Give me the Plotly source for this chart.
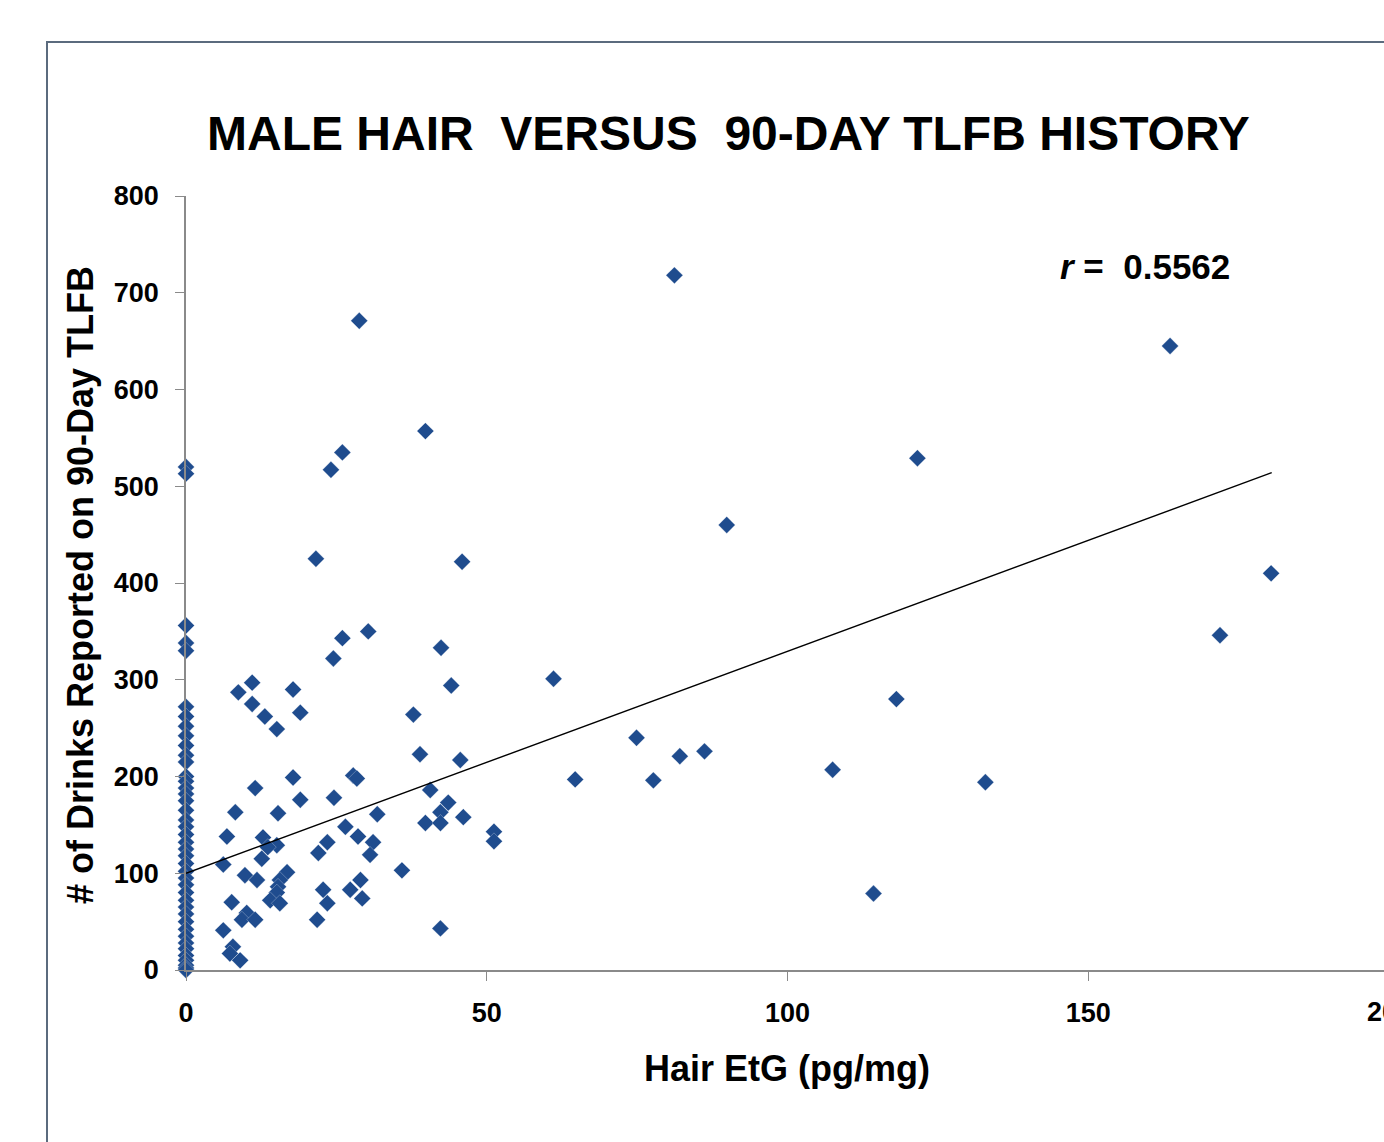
import plotly.graph_objects as go

# ---- data ----
zero_y = [520, 513, 356, 338, 330, 272, 262, 252, 242, 232, 222, 215, 200, 195, 188, 182,
          175, 165, 155, 148, 140, 132, 125, 118, 110, 102, 95, 88, 80, 72, 65, 58, 50,
          42, 35, 28, 22, 15, 10, 5, 2, 0]

etg_x = [81.2, 28.8, 163.6, 39.8, 26.0, 24.1, 121.6, 89.9, 21.6, 45.9, 180.4, 30.3, 26.0,
         171.9, 42.4, 24.5, 61.1, 44.1, 118.1, 37.8, 74.9, 38.9, 86.2, 82.1, 45.6, 107.5,
         64.7, 77.7, 132.9, 40.6, 114.3, 42.3, 51.2, 51.2, 46.1, 11.0, 8.7, 17.8, 11.0,
         13.1, 19.0, 15.1, 17.8, 27.8, 28.4, 11.5, 19.0, 8.2, 15.3, 24.6, 43.6, 42.3, 31.8,
         39.8, 42.3, 6.8, 12.8, 15.1, 13.6, 26.5, 28.6, 23.5, 22.0, 31.1, 30.6, 12.6, 6.2,
         9.8, 11.8, 16.8, 15.6, 15.3, 15.1, 14.0, 15.6, 22.8, 23.5, 27.3, 29.0, 29.3, 35.9,
         7.6, 10.1, 9.3, 11.5, 21.8, 6.2, 7.8, 7.3, 9.0]
drinks_y = [718, 671, 645, 557, 535, 517, 529, 460, 425, 422, 410, 350, 343,
            346, 333, 322, 301, 294, 280, 264, 240, 223, 226, 221, 217, 207,
            197, 196, 194, 186, 79, 43, 143, 133, 158, 297, 287, 290, 275,
            262, 266, 249, 199, 201, 198, 188, 176, 163, 162, 178, 173, 163, 161,
            152, 152, 138, 137, 129, 127, 148, 138, 132, 121, 132, 119, 115, 109,
            98, 93, 101, 93, 86, 80, 72, 69, 83, 69, 83, 93, 74, 103,
            70, 59, 52, 52, 52, 41, 24, 17, 10]

trend_x = [0, 180.5]
trend_y = [100, 514]

x_ticks = [0, 50, 100, 150]
y_ticks = [0, 100, 200, 300, 400, 500, 600, 700, 800]

all_x = [0.0] * len(zero_y) + etg_x
all_y = zero_y + drinks_y

FONT = "Liberation Sans, Arial, sans-serif"
MARK = "#1F4C8E"
AXIS = "#8A8A8A"

fig = go.Figure()
fig.add_trace(go.Scatter(
    x=all_x, y=all_y, mode="markers", cliponaxis=False,
    marker=dict(symbol="diamond", size=13, color=MARK,
                line=dict(width=0.6, color="rgba(255,255,255,0.45)")),
    showlegend=False, hoverinfo="x+y"))
fig.add_trace(go.Scatter(
    x=trend_x, y=trend_y, mode="lines", cliponaxis=False,
    line=dict(color="black", width=1.4), showlegend=False, hoverinfo="skip"))

L, T, W, H = 186, 196, 1384, 1142
PW = W - L              # plot width in px
PH = 970 - T            # plot height in px
def px(xp):
    return (xp - L) / PW
def py(yp):
    return (970 - yp) / PH

fig.update_layout(
    width=W, height=H,
    margin=dict(l=L, r=0, t=T, b=H - 970, pad=0),
    paper_bgcolor="white", plot_bgcolor="white",
    font=dict(family=FONT, color="black"),
    xaxis=dict(range=[0, 200 * PW / 1203.0], showgrid=False, zeroline=False,
               showline=True, linecolor=AXIS, linewidth=1.5,
               ticks="outside", ticklen=9, tickcolor=AXIS, tickwidth=1.2,
               tickvals=x_ticks, ticktext=[str(v) for v in x_ticks],
               ticklabelstandoff=9,
               tickfont=dict(family=FONT, size=27, weight="bold", color="black")),
    yaxis=dict(range=[0, 800], showgrid=False, zeroline=False,
               showline=True, linecolor=AXIS, linewidth=1.5,
               ticks="outside", ticklen=9, tickcolor=AXIS, tickwidth=1.2,
               tickvals=y_ticks, ticktext=[str(v) for v in y_ticks],
               ticklabelstandoff=11,
               tickfont=dict(family=FONT, size=27, weight="bold", color="black")),
    shapes=[dict(type="rect", xref="paper", yref="paper",
                 x0=px(47), x1=px(1500), y0=py(1300), y1=py(42),
                 line=dict(color="#5B6B7E", width=2), fillcolor="rgba(0,0,0,0)",
                 layer="above")],
    annotations=[
        dict(text="MALE HAIR  VERSUS  90-DAY TLFB HISTORY", xref="paper", yref="paper",
             x=px(728), y=py(133), xanchor="center", yanchor="middle", showarrow=False,
             font=dict(family=FONT, size=48, weight="bold", color="black")),
        dict(text="# of Drinks Reported on 90-Day TLFB", xref="paper", yref="paper",
             x=px(80), y=py(585), xanchor="center", yanchor="middle", showarrow=False,
             textangle=-90,
             font=dict(family=FONT, size=36, weight="bold", color="black")),
        dict(text="Hair EtG (pg/mg)", xref="paper", yref="paper",
             x=px(787), y=py(1068), xanchor="center", yanchor="middle", showarrow=False,
             font=dict(family=FONT, size=36, weight="bold", color="black")),
        dict(text="<i>r</i> =  0.5562", xref="paper", yref="paper",
             x=px(1145), y=py(266), xanchor="center", yanchor="middle", showarrow=False,
             font=dict(family=FONT, size=35, weight="bold", color="black")),
        dict(text="200", xref="paper", yref="paper",
             x=px(1389), y=py(1012), xanchor="center", yanchor="middle", showarrow=False,
             font=dict(family=FONT, size=27, weight="bold", color="black")),
    ],
)

fig.write_html("out.html", config={"displayModeBar": False},
               post_script="document.body.style.margin='0px';")
